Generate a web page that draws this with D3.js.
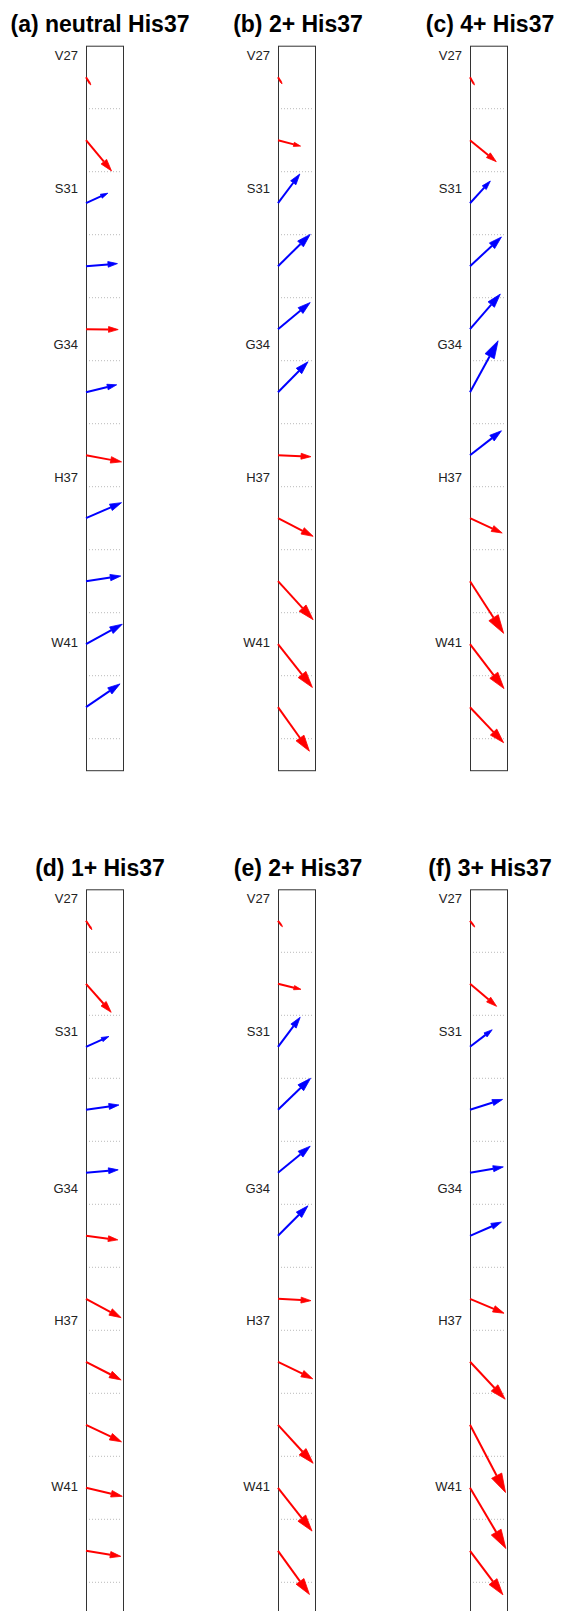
<!DOCTYPE html>
<html lang="en">
  <head>
    <meta charset="utf-8" />
    <title>Water dipole orientation along the channel</title>
    <script src="https://d3js.org/d3.v7.min.js" charset="utf-8"></script>
    <style>
      body { margin: 0; background: #fff; }
      svg { display: block; }
      .title { font-family: "Liberation Sans", Arial, Helvetica, sans-serif; font-weight: bold; font-size: 23px; fill: #000; }
      .reslabel { font-family: "Liberation Sans", Arial, Helvetica, sans-serif; font-size: 13px; fill: #222; }
    </style>
  </head>
  <body>
    <div id="svg-container"></div>
    <script>
      // panel titles, in reading order
      const panelTitles = ["(a) neutral His37", "(b) 2+ His37", "(c) 4+ His37",
                           "(d) 1+ His37", "(e) 2+ His37", "(f) 3+ His37"];

      // residue labels and where they sit along the pore (in bin units)
      const residueLabels = ["V27", "S31", "G34", "H37", "W41"];
      const residueBins = [-0.35, 1.76, 4.25, 6.35, 8.98];

      // 11 bins down the pore, one arrow per bin
      const bins = d3.range(11);

      // arrow components (dx sideways, dz up), box width = 1
      const dxA = [0.13, 0.69, 0.59, 0.85, 0.87, 0.83, 0.96, 0.96, 0.94, 0.98, 0.92];
      const dzA = [-0.21, -0.83, 0.27, 0.07, -0.01, 0.20, -0.18, 0.42, 0.14, 0.54, 0.63];

      const dxB = [0.11, 0.61, 0.59, 0.87, 0.87, 0.81, 0.89, 0.95, 0.95, 0.93, 0.85];
      const dzB = [-0.18, -0.16, 0.79, 0.86, 0.72, 0.82, -0.04, -0.49, -1.04, -1.17, -1.19];

      const dxC = [0.12, 0.71, 0.55, 0.85, 0.82, 0.76, 0.85, 0.87, 0.91, 0.92, 0.91];
      const dzC = [-0.21, -0.58, 0.60, 0.79, 0.95, 1.39, 0.66, -0.40, -1.41, -1.20, -0.96];

      const dxD = [0.16, 0.68, 0.62, 0.89, 0.87, 0.86, 0.95, 0.95, 0.96, 0.98, 0.94];
      const dzD = [-0.24, -0.77, 0.28, 0.13, 0.08, -0.11, -0.51, -0.49, -0.46, -0.23, -0.15];

      const dxE = [0.12, 0.62, 0.60, 0.88, 0.87, 0.81, 0.89, 0.94, 0.95, 0.92, 0.85];
      const dzE = [-0.16, -0.15, 0.80, 0.85, 0.72, 0.81, -0.05, -0.46, -1.04, -1.17, -1.18];

      const dxF = [0.13, 0.72, 0.60, 0.88, 0.90, 0.85, 0.92, 0.95, 0.96, 0.97, 0.89];
      const dzF = [-0.17, -0.61, 0.46, 0.28, 0.16, 0.37, -0.39, -1.01, -1.83, -1.64, -1.19];

      const panels = [
        { title: panelTitles[0], dx: dxA, dz: dzA },
        { title: panelTitles[1], dx: dxB, dz: dzB },
        { title: panelTitles[2], dx: dxC, dz: dzC },
        { title: panelTitles[3], dx: dxD, dz: dzD },
        { title: panelTitles[4], dx: dxE, dz: dzE },
        { title: panelTitles[5], dx: dxF, dz: dzF }
      ];

      const W = 561, H = 1611;
      const boxW = 37, boxH = 724.5;

      const svg = d3.select("#svg-container").append("svg")
        .attr("width", W).attr("height", H);

      // panel placement
      const colX = d3.scaleLinear().domain([0, 2]).range([86, 470]);
      const rowY = d3.scaleLinear().domain([0, 1]).range([45.7, 889.3]);
      // titles are not quite centred on the frames
      const titleShift = [-4.5, 1.5, 1.5];

      // scales inside a panel
      const yscale = d3.scaleLinear().domain([-0.5, 11]).range([0, boxH]);
      const xscale = d3.scaleLinear().domain([0, 1]).range([0, boxW]);

      const colour = (dz) => dz > 0 ? "#0000ff" : "#ff0000";

      panels.forEach((p, k) => {
        const col = k % 3;
        const g = svg.append("g")
          .attr("transform", `translate(${colX(col)},${rowY(Math.floor(k / 3))})`);

        // title
        g.append("text").attr("class", "title")
          .attr("x", boxW / 2 + titleShift[col]).attr("y", -13.7)
          .attr("text-anchor", "middle")
          .text(p.title);

        // dotted bin separators
        g.selectAll("line.grid").data(bins).join("line")
          .attr("class", "grid")
          .attr("x1", 3).attr("x2", boxW - 3)
          .attr("y1", (d) => yscale(d + 0.5)).attr("y2", (d) => yscale(d + 0.5))
          .attr("stroke", "#bbb").attr("stroke-width", 1)
          .attr("stroke-dasharray", "1,2");

        // residue labels
        g.selectAll("text.reslabel").data(residueLabels).join("text")
          .attr("class", "reslabel")
          .attr("x", -8)
          .attr("y", (d, i) => yscale(residueBins[i]))
          .attr("dy", "0.35em")
          .attr("text-anchor", "end")
          .text((d) => d);

        // frame
        g.append("rect")
          .attr("x", 0.5).attr("y", 0.5)
          .attr("width", boxW).attr("height", boxH)
          .attr("fill", "none").attr("stroke", "#333").attr("stroke-width", 1);

        // arrows
        const arrows = bins.map((i) => {
          const x1 = xscale(0), y1 = yscale(i);
          const px = xscale(p.dx[i]), py = -xscale(p.dz[i]);
          const L = Math.hypot(px, py);
          const ux = px / L, uy = py / L;
          const hl = Math.min(0.3 * L, 19), hw = 0.3 * hl;
          const tx = x1 + px, ty = y1 + py;
          const bx = tx - ux * hl, by = ty - uy * hl;
          return {
            x1, y1, bx, by, col: colour(p.dz[i]),
            head: [[tx, ty], [bx - uy * hw, by + ux * hw], [bx + uy * hw, by - ux * hw]]
          };
        });

        g.selectAll("line.shaft").data(arrows).join("line")
          .attr("class", "shaft")
          .attr("x1", (d) => d.x1).attr("y1", (d) => d.y1)
          .attr("x2", (d) => d.bx).attr("y2", (d) => d.by)
          .attr("stroke", (d) => d.col).attr("stroke-width", 2);

        g.selectAll("polygon.head").data(arrows).join("polygon")
          .attr("class", "head")
          .attr("points", (d) => d.head.map((q) => q.join(",")).join(" "))
          .attr("fill", (d) => d.col).attr("stroke", (d) => d.col)
          .attr("stroke-width", 0.8).attr("stroke-linejoin", "miter");
      });
    </script>
  </body>
</html>
